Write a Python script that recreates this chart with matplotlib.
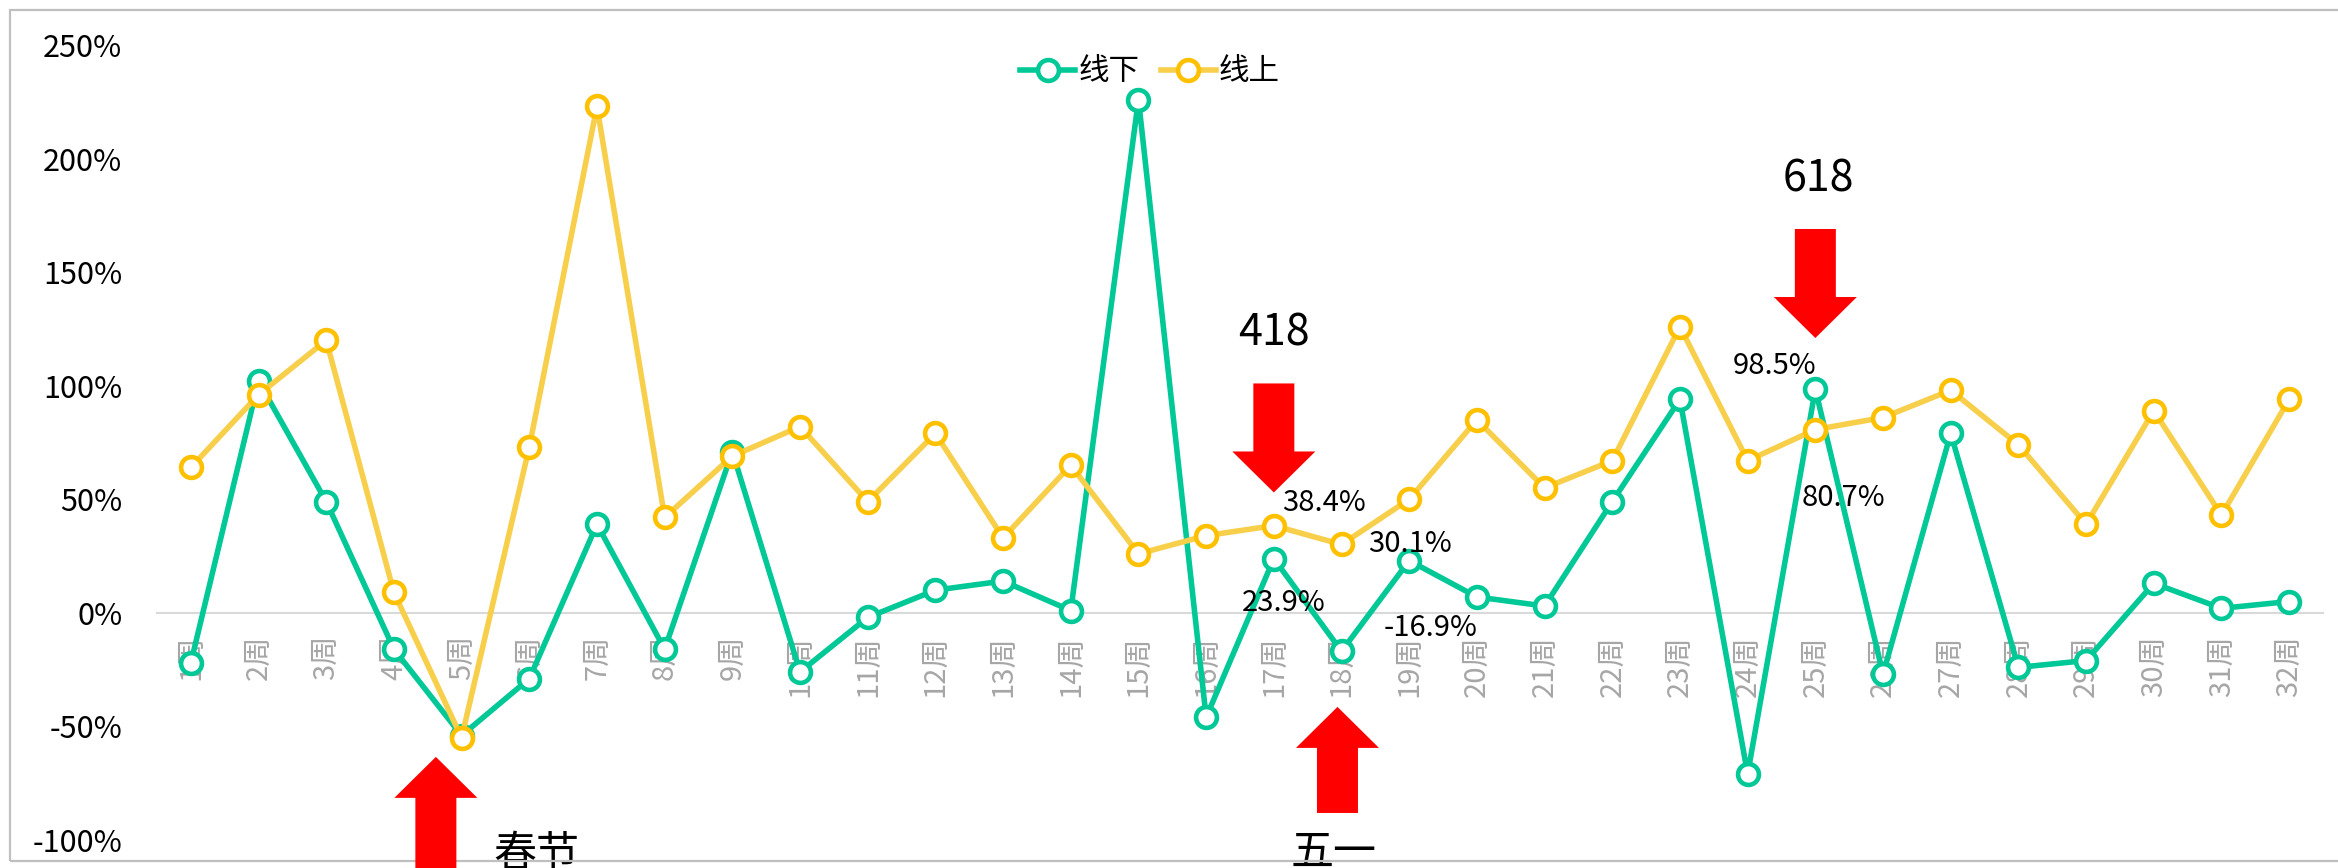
"""
plot.py
-------
Weekly growth rate, offline vs online, with holiday / promo markers.
"""

import matplotlib
matplotlib.use("Agg")
import matplotlib.pyplot as plt
import matplotlib.patches as mpatches
from matplotlib.transforms import IdentityTransform
from matplotlib.ticker import FuncFormatter


# ─── Data ─────────────────────────────────────────────────────────────────────

WEEKS = [f"{i}周" for i in range(1, 33)]

OFFLINE = [  # 线下
    -0.22, 1.02, 0.49, -0.16, -0.54, -0.29, 0.39, -0.16, 0.71, -0.26,
    -0.02, 0.10, 0.14, 0.01, 2.26, -0.46, 0.239, -0.169, 0.23, 0.07,
    0.03, 0.49, 0.94, -0.71, 0.985, -0.27, 0.79, -0.24, -0.21, 0.13,
    0.02, 0.05,
]
ONLINE = [  # 线上
    0.64, 0.96, 1.20, 0.09, -0.55, 0.73, 2.23, 0.42, 0.69, 0.82,
    0.49, 0.79, 0.33, 0.65, 0.26, 0.34, 0.384, 0.301, 0.50, 0.85,
    0.55, 0.67, 1.26, 0.67, 0.807, 0.86, 0.98, 0.74, 0.39, 0.89,
    0.43, 0.94,
]

SERIES_NAMES = ["线下", "线上"]

# (week, series, text) for the labelled points
POINT_LABELS = [
    (17, "online", "38.4%"),
    (18, "online", "30.1%"),
    (17, "offline", "23.9%"),
    (18, "offline", "-16.9%"),
    (25, "offline", "98.5%"),
    (25, "online", "80.7%"),
]

# ─── Style ────────────────────────────────────────────────────────────────────

GREEN = "#00C896"
YELLOW_LINE = "#F8CF4A"
YELLOW_MARK = "#FFC000"
GRID = "#D9D9D9"
TICK_GREY = "#A6A6A6"

plt.rcParams["font.family"] = ["Noto Sans CJK SC", "DejaVu Sans"]
plt.rcParams["axes.unicode_minus"] = False

fig = plt.figure(figsize=(23.38, 8.68), dpi=100)
ax = fig.add_axes([157 / 2338, 1 - 840 / 868, (2323 - 157) / 2338, (840 - 45) / 868])

x = list(range(1, len(WEEKS) + 1))

ax.plot(x, OFFLINE, color=GREEN, lw=4, marker="o", ms=15, mfc="white",
        mec=GREEN, mew=3.3, label=SERIES_NAMES[0], zorder=3)
ax.plot(x, ONLINE, color=YELLOW_LINE, lw=4, marker="o", ms=15, mfc="white",
        mec=YELLOW_MARK, mew=3.3, label=SERIES_NAMES[1], zorder=4)

# spine position first: moving it resets the tick formatting
for s in ["left", "right", "top"]:
    ax.spines[s].set_visible(False)
ax.spines["bottom"].set_position(("data", 0))
ax.spines["bottom"].set_color(GRID)
ax.spines["bottom"].set_linewidth(1.5)

ax.set_xlim(0.5, len(WEEKS) + 0.5)
ax.set_ylim(-1.0, 2.5)
ax.set_yticks([-1.0, -0.5, 0, 0.5, 1.0, 1.5, 2.0, 2.5])
ax.yaxis.set_major_formatter(FuncFormatter(lambda v, _: f"{v * 100:.0f}%"))
ax.set_xticks(x)
ax.set_xticklabels(WEEKS)
ax.tick_params(axis="x", length=0, pad=16, labelrotation=90, labelsize=21,
               labelcolor=TICK_GREY)
ax.tick_params(axis="y", length=0, pad=25, labelsize=22, labelcolor="black")
for lbl in ax.get_xticklabels():
    lbl.set_va("top")
    lbl.set_ha("center")

# ─── Data labels ──────────────────────────────────────────────────────────────

label_offsets = {
    (17, "online"): ((6, 16), "left"),
    (18, "online"): ((19, 0), "left"),
    (17, "offline"): ((7, -32), "center"),
    (18, "offline"): ((30, 17), "left"),
    (25, "offline"): ((1, 17), "right"),
    (25, "online"): ((-10, -49), "left"),
}
for wk, ser, txt in POINT_LABELS:
    val = (ONLINE if ser == "online" else OFFLINE)[wk - 1]
    (dx, dy), ha = label_offsets[(wk, ser)]
    ax.annotate(txt, (wk, val), xytext=(dx, dy), textcoords="offset points",
                ha=ha, va="center", fontsize=21, color="black", zorder=6)

# ─── Block arrows & event text ────────────────────────────────────────────────

fig.canvas.draw()


def block_arrow(xd, tip, tail, head_len=41, head_w=83, shaft_w=41):
    """Red block arrow; position in data units, shape in pixels."""
    tx, ty = ax.transData.transform((xd, tip))
    _, by = ax.transData.transform((xd, tail))
    sign = 1 if by > ty else -1
    hy = ty + sign * head_len
    pts = [
        (tx, ty), (tx - head_w / 2, hy), (tx - shaft_w / 2, hy),
        (tx - shaft_w / 2, by), (tx + shaft_w / 2, by), (tx + shaft_w / 2, hy),
        (tx + head_w / 2, hy),
    ]
    fig.add_artist(mpatches.Polygon(pts, closed=True, transform=IdentityTransform(),
                                    facecolor="#FF0000", edgecolor="none", zorder=5))


block_arrow(17, 0.53, 1.01)
block_arrow(25, 1.21, 1.69)
block_arrow(4.62, -0.634, -1.13)
block_arrow(17.94, -0.414, -0.881)

ax.text(17, 1.229, "418", ha="center", va="center", fontsize=31, zorder=6)
ax.text(25.05, 1.91, "618", ha="center", va="center", fontsize=31, zorder=6)
ax.text(6.11, -1.065, "春节", ha="center", va="center", fontsize=31, clip_on=False)
ax.text(17.88, -1.055, "五一", ha="center", va="center", fontsize=31, clip_on=False)

# ─── Legend & border ──────────────────────────────────────────────────────────

ax.legend(loc="center", bbox_to_anchor=(1150 / 2338, 1 - 72 / 868),
          bbox_transform=fig.transFigure, ncol=2, frameon=False, fontsize=22,
          handlelength=1.8, handletextpad=0.1, columnspacing=0.7)

fig.add_artist(mpatches.Rectangle((10 / 2338, 1 - 861 / 868), 1.1, (861 - 10) / 868,
                                  transform=fig.transFigure, fill=False,
                                  edgecolor="#BFBFBF", lw=1.6, clip_on=False))

plt.savefig("out.png", dpi=100)
plt.close()
